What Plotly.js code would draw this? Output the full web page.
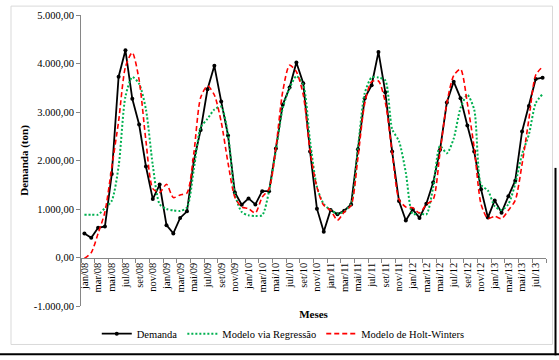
<!DOCTYPE html>
<html>
<head>
<meta charset="utf-8">
<script src="https://cdn.plot.ly/plotly-3.0.1.min.js"></script>
<style>
html,body{margin:0;padding:0;background:#fff;}
#chart{width:559px;height:360px;}
</style>
</head>
<body>
<div id="chart"></div>
<script>
// Categories (months)
var meses = [
 "jan/08","fev/08","mar/08","abr/08","mai/08","jun/08","jul/08","ago/08","set/08","out/08","nov/08","dez/08",
 "jan/09","fev/09","mar/09","abr/09","mai/09","jun/09","jul/09","ago/09","set/09","out/09","nov/09","dez/09",
 "jan/10","fev/10","mar/10","abr/10","mai/10","jun/10","jul/10","ago/10","set/10","out/10","nov/10","dez/10",
 "jan/11","fev/11","mar/11","abr/11","mai/11","jun/11","jul/11","ago/11","set/11","out/11","nov/11","dez/11",
 "jan/12","fev/12","mar/12","abr/12","mai/12","jun/12","jul/12","ago/12","set/12","out/12","nov/12","dez/12",
 "jan/13","fev/13","mar/13","abr/13","mai/13","jun/13","jul/13","ago/13"
];

// Series values (ton)
var demanda = [
 496, 408, 612, 640, 1720, 3728, 4272, 3272, 2742, 1877, 1204, 1503,
 667, 497, 816, 952, 1993, 2630, 3469, 3952, 3218, 2517, 1340, 1088,
 1218, 1095, 1367, 1367, 2245, 3150, 3503, 4020, 3592, 2184, 1007, 530,
 980, 891, 966, 1095, 2231, 3286, 3551, 4238, 3408, 2184, 1163, 762,
 993, 816, 1109, 1544, 2220, 3197, 3626, 3286, 2721, 2184, 1408, 823,
 1177, 925, 1265, 1585, 2599, 3122, 3680, 3708
];
var regressao = [
 884, 884, 884, 1020, 1170, 1880, 3320, 3720, 3580, 3050, 1900, 1100,
 1000, 970, 960, 1030, 1820, 2680, 2860, 3050, 3110, 2540, 1310, 940,
 870, 857, 871, 1370, 2200, 3080, 3490, 3740, 3560, 2400, 1460, 1100,
 980, 905, 950, 1109, 2265, 3390, 3710, 3710, 3650, 2650, 2400, 1750,
 900, 910, 890, 1450, 2300, 2150, 2450, 3082, 3354, 3050, 1500, 1381,
 1060, 980, 1100, 1517, 2129, 2537, 3184, 3367
];
var holtWinters = [
 -20, 100, 496, 940, 1860, 2810, 3930, 4224, 3660, 2400, 1420, 1340,
 1510, 1235, 1290, 1330, 2150, 3300, 3540, 3350, 2800, 1950, 1245, 1041,
 1007, 918, 1245, 1415, 2265, 3422, 3966, 3830, 3354, 2197, 1449, 1075,
 973, 769, 939, 1075, 2061, 3184, 3626, 3640, 3200, 2163, 1200, 1041,
 1027, 918, 1095, 1197, 2163, 3184, 3748, 3884, 3180, 2265, 1100, 803,
 850, 800, 973, 1177, 1925, 2850, 3762, 3932
];

// Y axis ticks
var yTickVals = [-1000, 0, 1000, 2000, 3000, 4000, 5000];
var yTickText = ["-1.000,00", "0,00", "1.000,00", "2.000,00", "3.000,00", "4.000,00", "5.000,00"];

var serif = "Liberation Serif";

var traces = [
 {
  x: meses, y: demanda, name: "Demanda", type: "scatter", mode: "lines+markers",
  line: {color: "#000000", width: 1.8},
  marker: {color: "#000000", size: 4, symbol: "circle"}
 },
 {
  x: meses, y: regressao, name: "Modelo via Regressão", type: "scatter", mode: "lines",
  line: {color: "#00B050", width: 2, dash: "2px,2px", shape: "spline", smoothing: 0.7}
 },
 {
  x: meses, y: holtWinters, name: "Modelo de Holt-Winters", type: "scatter", mode: "lines",
  line: {color: "#FF0000", width: 1.6, dash: "5px,3px", shape: "spline", smoothing: 0.7}
 }
];

var zeroFrac = (0 - (-1000)) / (5000 - (-1000));

var layout = {
 width: 559, height: 360,
 margin: {l: 81, r: 13, t: 15, b: 50},
 paper_bgcolor: "#ffffff", plot_bgcolor: "#ffffff",
 separators: ",.",
 font: {family: serif, size: 10, color: "#000000"},
 showlegend: true,
 legend: {
  orientation: "h", x: 0.435, xanchor: "center", y: -0.095, yanchor: "middle",
  font: {family: serif, size: 10.5, color: "#000000"},
  itemwidth: 30, tracegroupgap: 0, bgcolor: "rgba(0,0,0,0)"
 },
 xaxis: {
  type: "category",
  anchor: "free", position: zeroFrac,
  range: [-0.5, 67.5],
  dtick: 2, tickson: "boundaries",
  ticks: "outside", ticklen: 4, tickcolor: "#868686", tickwidth: 1,
  tickangle: -90,
  tickfont: {family: serif, size: 10.5, color: "#000000"},
  showline: true, linecolor: "#868686", linewidth: 1,
  showgrid: false, zeroline: false, automargin: false,
  title: {text: "<b>Meses</b>", font: {family: serif, size: 11, color: "#000000"}, standoff: 18}
 },
 yaxis: {
  range: [-1000, 5000],
  tickvals: yTickVals, ticktext: yTickText,
  ticks: "outside", ticklen: 4, tickcolor: "#868686", tickwidth: 1,
  tickfont: {family: serif, size: 10.5, color: "#000000"},
  showline: true, linecolor: "#868686", linewidth: 1,
  showgrid: false, zeroline: false, automargin: false,
  title: {text: "<b>Demanda (ton)</b>", font: {family: serif, size: 11, color: "#000000"}, standoff: 2}
 },
 shapes: [
  {type: "rect", xref: "paper", yref: "paper",
   x0: (11 - 81) / 465, x1: (552.5 - 81) / 465,
   y0: (310 - 349) / 295, y1: (310 - 6) / 295,
   line: {color: "#d9d9d9", width: 1}, fillcolor: "rgba(0,0,0,0)", layer: "below"},
  {type: "line", xref: "paper", yref: "paper",
   x0: (0 - 81) / 465, x1: (559 - 81) / 465,
   y0: (310 - 359) / 295, y1: (310 - 359) / 295,
   line: {color: "#000000", width: 2}},
  {type: "line", xref: "paper", yref: "paper",
   x0: (555.5 - 81) / 465, x1: (555.5 - 81) / 465,
   y0: (310 - 360) / 295, y1: (310 - 170) / 295,
   line: {color: "#000000", width: 2}}
 ]
};

Plotly.newPlot("chart", traces, layout, {displayModeBar: false, staticPlot: true});
</script>
</body>
</html>
